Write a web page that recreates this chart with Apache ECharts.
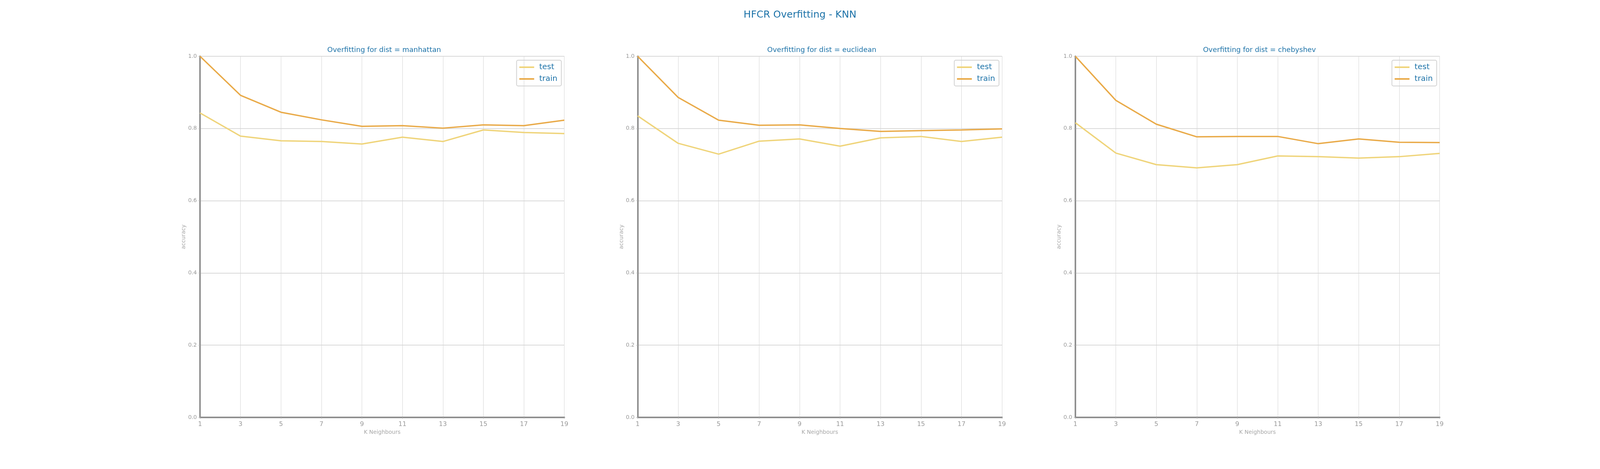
<!DOCTYPE html>
<html>
<head>
<meta charset="utf-8">
<script src="https://cdn.jsdelivr.net/npm/echarts@6/dist/echarts.min.js"></script>
<style>
    html, body { margin: 0; padding: 0; background: #fff; overflow: hidden; }
    #main { width: 100vw; height: 100vh; }
</style>
</head>
<body>
<div id="main"></div>
<script>
var kNeighbours = ['1', '3', '5', '7', '9', '11', '13', '15', '17', '19'];
var distNames = ['manhattan', 'euclidean', 'chebyshev'];

var manhattanTest  = [0.843, 0.779, 0.766, 0.764, 0.757, 0.776, 0.764, 0.796, 0.789, 0.786];
var manhattanTrain = [1.000, 0.892, 0.845, 0.824, 0.806, 0.808, 0.801, 0.810, 0.808, 0.823];
var euclideanTest  = [0.835, 0.759, 0.729, 0.765, 0.771, 0.751, 0.774, 0.778, 0.764, 0.776];
var euclideanTrain = [1.000, 0.886, 0.823, 0.809, 0.810, 0.800, 0.792, 0.794, 0.796, 0.799];
var chebyshevTest  = [0.816, 0.732, 0.700, 0.691, 0.700, 0.724, 0.722, 0.718, 0.722, 0.731];
var chebyshevTrain = [1.000, 0.878, 0.812, 0.777, 0.778, 0.778, 0.758, 0.771, 0.762, 0.761];

var testValues = [manhattanTest, euclideanTest, chebyshevTest];
var trainValues = [manhattanTrain, euclideanTrain, chebyshevTrain];

window.onload = function () {
    var chart = echarts.init(document.getElementById('main'));
    var W = chart.getWidth();
    var H = chart.getHeight();
    // layout measured on a 4800 wide picture, scaled to the real width
    var sx = W / 4800;
    var font = 'DejaVu Sans';
    var blue = '#1c72a8';
    var gridLeft = [600 * sx, 1913 * sx, 3226 * sx];
    var gridWidth = 1093 * sx;

    var titles = [{
        text: 'HFCR Overfitting - KNN',
        left: 'center',
        top: 21,
        textStyle: { color: blue, fontSize: 25, fontWeight: 'normal', fontFamily: font }
    }];
    var grids = [], xAxes = [], yAxes = [], legends = [], series = [];

    for (var i = 0; i < 3; i++) {
        titles.push({
            text: 'Overfitting for dist = ' + distNames[i],
            left: gridLeft[i] + gridWidth / 2,
            textAlign: 'center',
            top: 114,
            textStyle: { color: blue, fontSize: 18, fontWeight: 'normal', fontFamily: font }
        });
        grids.push({ left: gridLeft[i], width: gridWidth, top: 144, bottom: H - 1068 });
        xAxes.push({
            type: 'category',
            gridIndex: i,
            data: kNeighbours,
            boundaryGap: false,
            name: 'K Neighbours',
            nameLocation: 'middle',
            nameGap: 29,
            nameTextStyle: { color: '#a6a6a6', fontSize: 14, fontFamily: font },
            axisLine: { lineStyle: { color: '#8f8f8f', width: 4 } },
            axisTick: { show: true, length: 4, lineStyle: { color: '#bbbbbb' } },
            axisLabel: { color: '#999999', fontSize: 16, margin: 10, fontFamily: font },
            splitLine: { show: true, lineStyle: { color: '#d4d4d4', width: 1 } }
        });
        yAxes.push({
            type: 'value',
            gridIndex: i,
            min: 0,
            max: 1,
            interval: 0.2,
            name: 'accuracy',
            nameLocation: 'middle',
            nameGap: 32,
            nameTextStyle: { color: '#a6a6a6', fontSize: 14, fontFamily: font },
            axisLine: { show: true, lineStyle: { color: '#8f8f8f', width: 4 } },
            axisTick: { show: true, length: 4, lineStyle: { color: '#bbbbbb' } },
            axisLabel: {
                color: '#999999', fontSize: 14, margin: 8, fontFamily: font,
                formatter: function (v) { return v.toFixed(1); }
            },
            splitLine: { show: true, lineStyle: { color: '#cccccc', width: 1.5 } }
        });
        legends.push({
            data: [{ name: 'test', icon: 'rect' }, { name: 'train', icon: 'rect' }],
            orient: 'vertical',
            right: W - (gridLeft[i] + gridWidth - 9 * sx),
            top: 154,
            itemWidth: Math.round(45 * sx),
            itemHeight: 4,
            itemGap: 10,
            padding: [8, 10, 8, 7],
            borderColor: '#d2d2d2',
            borderWidth: 2,
            borderRadius: 4,
            textStyle: { color: blue, fontSize: 20, lineHeight: 20, fontFamily: font, padding: [0, 0, 0, 8] }
        });
        series.push({
            name: 'test',
            type: 'line',
            xAxisIndex: i,
            yAxisIndex: i,
            data: testValues[i],
            symbol: 'none',
            color: '#efd47a',
            lineStyle: { width: 3.5, color: '#efd47a' }
        });
        series.push({
            name: 'train',
            type: 'line',
            xAxisIndex: i,
            yAxisIndex: i,
            data: trainValues[i],
            symbol: 'none',
            color: '#e9aa48',
            lineStyle: { width: 3.5, color: '#e9aa48' }
        });
    }

    chart.setOption({
        animation: false,
        title: titles,
        grid: grids,
        xAxis: xAxes,
        yAxis: yAxes,
        legend: legends,
        series: series
    });
};
</script>
</body>
</html>
